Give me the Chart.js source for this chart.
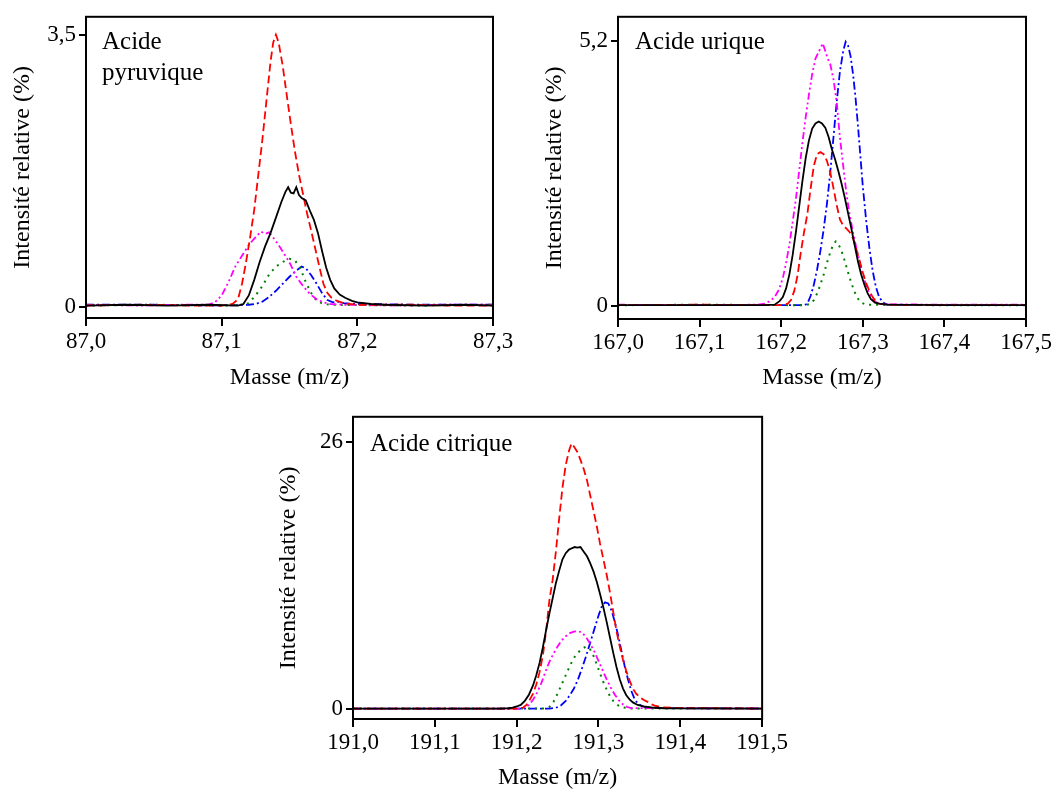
<!DOCTYPE html>
<html>
<head>
<meta charset="utf-8">
<script src="https://cdn.jsdelivr.net/npm/chart.js@4.4.1/dist/chart.umd.min.js"></script>
<style>
  html, body { margin:0; padding:0; background:#fff; width:1059px; height:789px; overflow:hidden; }
  .box { position:absolute; }
  .lbl { position:absolute; font-family:"Liberation Serif","DejaVu Serif",serif; font-size:25px; color:#000; line-height:31px; white-space:nowrap; }
</style>
</head>
<body>
<div class="box" style="left:0px;top:0px;width:530px;height:400px;"><canvas id="c1" width="530" height="400"></canvas></div>
<div class="box" style="left:530px;top:0px;width:529px;height:400px;"><canvas id="c2" width="529" height="400"></canvas></div>
<div class="box" style="left:270px;top:400px;width:520px;height:400px;"><canvas id="c3" width="520" height="400"></canvas></div>
<div class="lbl" style="left:102px;top:25px;">Acide<br>pyruvique</div>
<div class="lbl" style="left:635px;top:25px;">Acide urique</div>
<div class="lbl" style="left:370px;top:427px;">Acide citrique</div>
<script>
// ---------- Acide pyruvique (m/z 87) ----------
const pyrXTicks = [87.0, 87.1, 87.2, 87.3];
const pyrXLabels = ['87,0', '87,1', '87,2', '87,3'];
const pyrYTicks = [0, 3.5];
const pyrYLabels = ['0', '3,5'];
const pyrBlack = [[87.000,0.02],[87.030,0.03],[87.060,0.02],[87.090,0.03],[87.112,0.02],[87.116,0.04],[87.120,0.15],[87.124,0.35],[87.128,0.58],[87.132,0.78],[87.136,0.95],[87.140,1.15],[87.144,1.35],[87.147,1.48],[87.149,1.54],[87.151,1.47],[87.153,1.46],[87.155,1.54],[87.157,1.44],[87.159,1.40],[87.162,1.37],[87.165,1.24],[87.168,1.12],[87.171,0.95],[87.174,0.72],[87.177,0.51],[87.180,0.35],[87.183,0.24],[87.187,0.16],[87.191,0.12],[87.196,0.08],[87.200,0.06],[87.210,0.04],[87.220,0.03],[87.250,0.02],[87.280,0.03],[87.300,0.02]];
const pyrRed = [[87.000,0.02],[87.040,0.03],[87.080,0.02],[87.100,0.02],[87.108,0.04],[87.112,0.10],[87.115,0.30],[87.118,0.58],[87.121,0.90],[87.124,1.25],[87.127,1.70],[87.130,2.15],[87.133,2.65],[87.136,3.15],[87.138,3.40],[87.140,3.50],[87.142,3.40],[87.145,3.10],[87.148,2.72],[87.151,2.35],[87.154,2.00],[87.157,1.70],[87.160,1.45],[87.163,1.20],[87.166,0.98],[87.169,0.75],[87.172,0.52],[87.175,0.30],[87.178,0.18],[87.181,0.12],[87.185,0.08],[87.190,0.05],[87.200,0.03],[87.240,0.03],[87.270,0.02],[87.300,0.02]];
const pyrMagenta = [[87.000,0.03],[87.040,0.02],[87.070,0.03],[87.090,0.03],[87.095,0.06],[87.100,0.15],[87.105,0.32],[87.110,0.52],[87.115,0.66],[87.120,0.80],[87.125,0.90],[87.129,0.97],[87.132,0.94],[87.135,0.96],[87.139,0.87],[87.143,0.77],[87.147,0.66],[87.151,0.54],[87.155,0.39],[87.160,0.27],[87.165,0.17],[87.170,0.10],[87.175,0.06],[87.180,0.04],[87.190,0.03],[87.230,0.02],[87.260,0.03],[87.300,0.03]];
const pyrGreen = [[87.000,0.02],[87.050,0.03],[87.100,0.02],[87.115,0.03],[87.120,0.05],[87.125,0.15],[87.130,0.27],[87.135,0.42],[87.140,0.52],[87.145,0.58],[87.150,0.62],[87.154,0.60],[87.158,0.50],[87.162,0.32],[87.166,0.18],[87.170,0.08],[87.175,0.04],[87.180,0.03],[87.240,0.02],[87.300,0.03]];
const pyrBlue = [[87.000,0.03],[87.050,0.03],[87.100,0.02],[87.120,0.03],[87.125,0.04],[87.130,0.07],[87.135,0.13],[87.140,0.21],[87.145,0.30],[87.150,0.39],[87.155,0.47],[87.159,0.52],[87.162,0.50],[87.166,0.41],[87.170,0.30],[87.174,0.18],[87.178,0.09],[87.182,0.06],[87.186,0.07],[87.190,0.05],[87.200,0.04],[87.250,0.03],[87.300,0.03]];

// ---------- Acide urique (m/z 167) ----------
const uriXTicks = [167.0, 167.1, 167.2, 167.3, 167.4, 167.5];
const uriXLabels = ['167,0', '167,1', '167,2', '167,3', '167,4', '167,5'];
const uriYTicks = [0, 5.2];
const uriYLabels = ['0', '5,2'];
const uriBlack = [[167.000,0.02],[167.100,0.02],[167.180,0.02],[167.192,0.03],[167.198,0.10],[167.202,0.18],[167.206,0.35],[167.210,0.62],[167.214,1.00],[167.218,1.45],[167.222,1.95],[167.226,2.45],[167.230,2.90],[167.234,3.25],[167.238,3.48],[167.242,3.58],[167.246,3.62],[167.250,3.58],[167.254,3.50],[167.258,3.32],[167.262,3.08],[167.266,2.88],[167.270,2.65],[167.274,2.40],[167.278,2.12],[167.282,1.82],[167.286,1.52],[167.290,1.20],[167.294,0.88],[167.298,0.62],[167.302,0.42],[167.306,0.25],[167.310,0.14],[167.315,0.07],[167.320,0.05],[167.330,0.03],[167.400,0.02],[167.500,0.02]];
const uriRed = [[167.000,0.02],[167.100,0.03],[167.200,0.02],[167.208,0.05],[167.212,0.12],[167.216,0.30],[167.220,0.60],[167.224,1.05],[167.228,1.45],[167.232,1.80],[167.236,2.30],[167.240,2.75],[167.244,2.98],[167.248,3.02],[167.252,2.98],[167.256,2.85],[167.260,2.63],[167.264,2.32],[167.268,1.98],[167.272,1.70],[167.276,1.58],[167.280,1.52],[167.284,1.45],[167.288,1.33],[167.292,1.12],[167.296,0.90],[167.300,0.66],[167.304,0.46],[167.308,0.30],[167.312,0.18],[167.316,0.10],[167.320,0.05],[167.330,0.03],[167.420,0.02],[167.500,0.02]];
const uriMagenta = [[167.000,0.03],[167.080,0.02],[167.170,0.03],[167.180,0.05],[167.186,0.10],[167.192,0.18],[167.197,0.32],[167.202,0.55],[167.206,0.85],[167.210,1.20],[167.214,1.65],[167.218,2.10],[167.222,2.65],[167.226,3.20],[167.230,3.70],[167.234,4.15],[167.238,4.55],[167.242,4.85],[167.245,4.95],[167.248,5.05],[167.251,5.15],[167.254,5.00],[167.257,4.85],[167.260,4.75],[167.264,4.45],[167.268,4.00],[167.272,3.30],[167.276,2.75],[167.280,2.20],[167.284,1.78],[167.288,1.45],[167.292,1.15],[167.296,0.88],[167.300,0.62],[167.304,0.42],[167.308,0.25],[167.312,0.14],[167.316,0.08],[167.322,0.04],[167.400,0.03],[167.500,0.03]];
const uriGreen = [[167.000,0.02],[167.100,0.03],[167.230,0.02],[167.236,0.05],[167.240,0.12],[167.244,0.25],[167.248,0.42],[167.252,0.62],[167.256,0.85],[167.260,1.05],[167.264,1.22],[167.267,1.27],[167.270,1.22],[167.274,1.08],[167.278,0.88],[167.282,0.66],[167.286,0.45],[167.290,0.28],[167.294,0.15],[167.298,0.07],[167.304,0.03],[167.400,0.02],[167.500,0.02]];
const uriBlue = [[167.000,0.02],[167.100,0.02],[167.228,0.02],[167.232,0.05],[167.236,0.20],[167.240,0.42],[167.244,0.72],[167.248,1.08],[167.252,1.50],[167.256,2.00],[167.260,2.60],[167.264,3.30],[167.268,4.00],[167.272,4.60],[167.276,5.00],[167.279,5.18],[167.282,5.10],[167.285,4.90],[167.288,4.55],[167.291,4.10],[167.294,3.55],[167.297,2.95],[167.300,2.35],[167.304,1.70],[167.308,1.15],[167.312,0.70],[167.316,0.38],[167.320,0.18],[167.325,0.07],[167.330,0.03],[167.450,0.02],[167.500,0.02]];

// ---------- Acide citrique (m/z 191) ----------
const citXTicks = [191.0, 191.1, 191.2, 191.3, 191.4, 191.5];
const citXLabels = ['191,0', '191,1', '191,2', '191,3', '191,4', '191,5'];
const citYTicks = [0, 26];
const citYLabels = ['0', '26'];
const citBlack = [[191.000,0.05],[191.180,0.05],[191.190,0.08],[191.195,0.15],[191.200,0.25],[191.205,0.40],[191.210,0.80],[191.215,1.40],[191.220,2.30],[191.224,3.30],[191.228,4.50],[191.232,6.00],[191.236,7.70],[191.240,9.30],[191.244,10.8],[191.248,12.3],[191.252,13.5],[191.256,14.6],[191.260,15.2],[191.264,15.55],[191.268,15.7],[191.271,15.8],[191.274,15.75],[191.278,15.8],[191.282,15.35],[191.286,14.9],[191.290,14.2],[191.294,13.4],[191.298,12.4],[191.302,11.2],[191.306,9.9],[191.310,8.5],[191.314,7.0],[191.318,5.5],[191.322,4.1],[191.326,2.9],[191.330,2.0],[191.334,1.35],[191.338,0.95],[191.342,0.65],[191.348,0.40],[191.355,0.25],[191.365,0.15],[191.380,0.08],[191.500,0.05]];
const citRed = [[191.000,0.05],[191.200,0.05],[191.208,0.15],[191.212,0.40],[191.216,0.90],[191.220,1.50],[191.224,2.40],[191.228,3.60],[191.232,5.20],[191.236,7.60],[191.240,10.6],[191.244,12.6],[191.248,15.4],[191.252,18.6],[191.256,21.6],[191.260,23.8],[191.264,25.2],[191.267,25.9],[191.270,25.6],[191.274,25.1],[191.278,24.3],[191.282,23.4],[191.286,22.3],[191.290,20.8],[191.294,19.3],[191.298,17.8],[191.302,16.1],[191.306,14.6],[191.310,13.1],[191.314,11.4],[191.318,9.5],[191.322,7.6],[191.326,6.1],[191.330,4.8],[191.334,3.7],[191.338,2.8],[191.342,2.0],[191.346,1.5],[191.350,1.2],[191.355,0.9],[191.360,0.7],[191.365,0.45],[191.370,0.30],[191.380,0.15],[191.400,0.10],[191.500,0.05]];
const citMagenta = [[191.000,0.05],[191.205,0.05],[191.210,0.15],[191.215,0.40],[191.220,0.90],[191.225,1.60],[191.230,2.50],[191.235,3.60],[191.240,4.60],[191.245,5.40],[191.250,6.10],[191.255,6.70],[191.260,7.10],[191.265,7.40],[191.270,7.55],[191.275,7.60],[191.280,7.45],[191.285,7.00],[191.290,6.35],[191.295,5.60],[191.300,4.70],[191.305,3.80],[191.310,2.90],[191.315,2.10],[191.320,1.40],[191.325,0.85],[191.330,0.45],[191.335,0.20],[191.340,0.10],[191.500,0.05]];
const citGreen = [[191.000,0.05],[191.235,0.05],[191.240,0.20],[191.245,0.70],[191.250,1.50],[191.255,2.40],[191.260,3.30],[191.265,4.20],[191.270,5.00],[191.275,5.50],[191.280,5.90],[191.285,6.10],[191.290,5.80],[191.295,5.00],[191.300,3.90],[191.305,2.80],[191.310,1.90],[191.315,1.10],[191.320,0.60],[191.325,0.30],[191.330,0.15],[191.340,0.06],[191.500,0.05]];
const citBlue = [[191.000,0.05],[191.240,0.05],[191.248,0.12],[191.254,0.35],[191.260,0.80],[191.265,1.35],[191.270,2.00],[191.275,2.90],[191.280,4.00],[191.285,5.20],[191.290,6.50],[191.295,7.80],[191.300,9.10],[191.304,10.0],[191.308,10.4],[191.312,10.3],[191.316,9.6],[191.320,8.5],[191.324,7.2],[191.328,5.7],[191.332,4.2],[191.336,2.9],[191.340,1.8],[191.344,1.0],[191.348,0.55],[191.354,0.25],[191.362,0.10],[191.500,0.05]];

// ---------- styles ----------
const SERIF = '"Liberation Serif", "Times New Roman", serif';
const LINE_STYLES = {
  black:   { color:'#000000', dash:[] ,              width:1.8 },
  red:     { color:'#ff0000', dash:[8,4],            width:1.8 },
  magenta: { color:'#ff00ff', dash:[7,3,2,3,2,3],    width:1.8 },
  green:   { color:'#008000', dash:[2,5],            width:2.0 },
  blue:    { color:'#0000ff', dash:[8,3,2,3],        width:1.8 }
};

const framePlugin = {
  id:'frame',
  afterDraw(chart) {
    const a = chart.chartArea, c = chart.ctx;
    c.save();
    c.strokeStyle = '#000';
    c.lineWidth = 2;
    c.strokeRect(a.left, a.top, a.right - a.left, a.bottom - a.top);
    c.restore();
  }
};

function makeChart(id, p) {
  const datasets = p.series.map(([key, arr]) => ({
    data: arr.map(([x, y]) => ({ x, y })),
    borderColor: LINE_STYLES[key].color,
    borderDash: LINE_STYLES[key].dash,
    borderWidth: LINE_STYLES[key].width,
    pointRadius: 0,
    fill: false,
    tension: 0
  }));
  const tickFont = { family: SERIF, size: 23 };
  const titleFont = { family: SERIF, size: 24 };
  new Chart(document.getElementById(id), {
    type: 'line',
    data: { datasets },
    plugins: [framePlugin],
    options: {
      responsive: false,
      animation: false,
      events: [],
      layout: { padding: { top: p.padTop, right: p.padRight, left: 0, bottom: 0 } },
      plugins: { legend: { display: false }, tooltip: { enabled: false } },
      scales: {
        x: {
          type: 'linear',
          min: p.xTicks[0], max: p.xTicks[p.xTicks.length - 1],
          afterBuildTicks: s => { s.ticks = p.xTicks.map(v => ({ value: v })); },
          afterFit: s => { s.height = p.xAxisH; },
          ticks: { callback: (v, i) => p.xLabels[i], font: tickFont, color: '#000', maxRotation: 0, autoSkip: false, padding: 2 },
          grid: { drawOnChartArea: false, drawTicks: true, tickLength: 8, color: '#000', lineWidth: 2 },
          border: { display: true, color: '#000', width: 2 },
          title: { display: true, text: 'Masse (m/z)', font: titleFont, color: '#000', padding: { top: 4, bottom: 8 } }
        },
        y: {
          type: 'linear',
          min: p.yMin, max: p.yMax,
          afterBuildTicks: s => { s.ticks = p.yTicks.map(v => ({ value: v })); },
          afterFit: s => { s.width = p.yAxisW; },
          ticks: { callback: (v, i) => p.yLabels[i], font: tickFont, color: '#000', padding: 3 },
          grid: { drawOnChartArea: false, drawTicks: true, tickLength: 7, color: '#000', lineWidth: 2 },
          border: { display: true, color: '#000', width: 2 },
          title: { display: true, text: 'Intensité relative (%)', font: titleFont, color: '#000', padding: { top: p.yTitlePad, bottom: 0 } }
        }
      }
    }
  });
}

makeChart('c1', {
  series: [['black', pyrBlack], ['red', pyrRed], ['magenta', pyrMagenta], ['green', pyrGreen], ['blue', pyrBlue]],
  xTicks: pyrXTicks, xLabels: pyrXLabels, yTicks: pyrYTicks, yLabels: pyrYLabels,
  yMin: -0.14, yMax: 3.73, padTop: 15, padRight: 37, xAxisH: 82, yAxisW: 86, yTitlePad: 8
});
makeChart('c2', {
  series: [['black', uriBlack], ['red', uriRed], ['magenta', uriMagenta], ['green', uriGreen], ['blue', uriBlue]],
  xTicks: uriXTicks, xLabels: uriXLabels, yTicks: uriYTicks, yLabels: uriYLabels,
  yMin: -0.25, yMax: 5.67, padTop: 15, padRight: 33, xAxisH: 81, yAxisW: 88, yTitlePad: 10
});
makeChart('c3', {
  series: [['black', citBlack], ['red', citRed], ['magenta', citMagenta], ['green', citGreen], ['blue', citBlue]],
  xTicks: citXTicks, xLabels: citXLabels, yTicks: citYTicks, yLabels: citYLabels,
  yMin: -0.97, yMax: 28.5, padTop: 15, padRight: 24, xAxisH: 81, yAxisW: 83, yTitlePad: 4
});
</script>
</body>
</html>
